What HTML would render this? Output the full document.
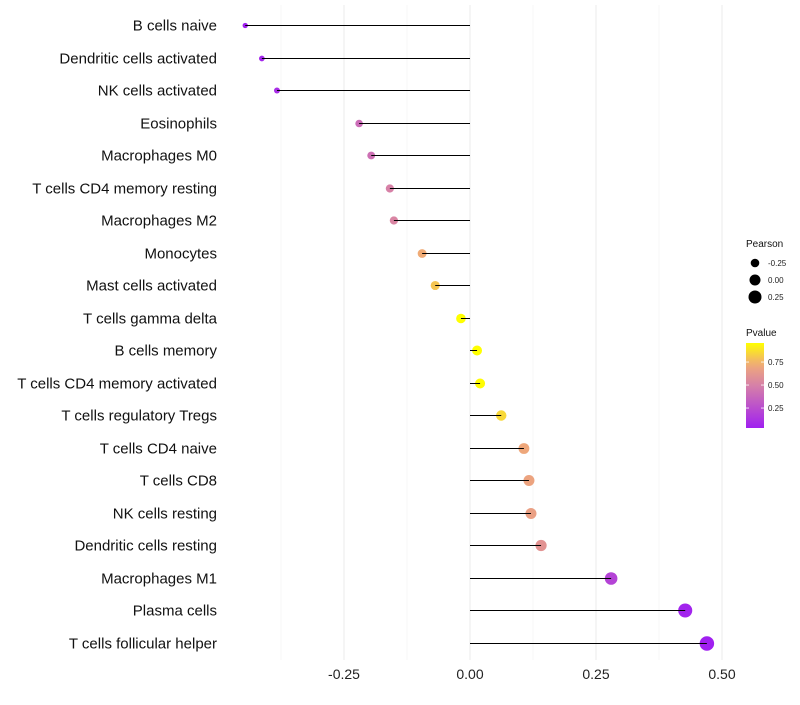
<!DOCTYPE html>
<html><head><meta charset="utf-8"><style>
body{margin:0;background:#fff;font-family:"Liberation Sans",sans-serif}
</style></head><body>
<svg id="c" width="800" height="700" xmlns="http://www.w3.org/2000/svg"></svg>
<script>
const categories=["B cells naive","Dendritic cells activated","NK cells activated","Eosinophils","Macrophages M0","T cells CD4 memory resting","Macrophages M2","Monocytes","Mast cells activated","T cells gamma delta","B cells memory","T cells CD4 memory activated","T cells regulatory  Tregs ","T cells CD4 naive","T cells CD8","NK cells resting","Dendritic cells resting","Macrophages M1","Plasma cells","T cells follicular helper"];
const pearson=[-0.446,-0.413,-0.383,-0.220,-0.196,-0.159,-0.151,-0.095,-0.069,-0.018,0.014,0.020,0.062,0.107,0.117,0.121,0.141,0.280,0.427,0.470];
const pvalue=[0.03,0.06,0.10,0.40,0.42,0.50,0.52,0.73,0.80,0.97,0.97,0.95,0.85,0.71,0.69,0.67,0.60,0.20,0.05,0.03];
const xTicks=[-0.25,0,0.25,0.5];
const xTickLabels=["-0.25","0.00","0.25","0.50"];
const sizeKeys=[-0.25,0,0.25];
const sizeKeyLabels=["-0.25","0.00","0.25"];
const pTicks=[0.25,0.5,0.75];
const pTickLabels=["0.25","0.50","0.75"];
const NS="http://www.w3.org/2000/svg";
const svg=document.getElementById('c');
const x=v=>470+v*504;
const y=i=>Math.round(25+i*32.5)+0.5;
const r=v=>Math.max(1.6,4.9+5.0*v);
const pmin=0.033,pmax=0.957;
function col(p){
 const t=Math.max(0,Math.min(1,(p-pmin)/(pmax-pmin)));
 const stops=[[0,[160,32,240]],[0.5,[214,128,168]],[0.75,[240,170,120]],[1,[255,255,0]]];
 for(let k=1;k<stops.length;k++){if(t<=stops[k][0]){const a=stops[k-1],b=stops[k];const u=(t-a[0])/(b[0]-a[0]);
  return 'rgb('+a[1].map((c,j)=>Math.round(c+(b[1][j]-c)*u)).join(',')+')';}}
 return 'rgb(255,255,0)';
}
function el(tag,attrs,txt){const e=document.createElementNS(NS,tag);for(const k in attrs)e.setAttribute(k,attrs[k]);if(txt!==undefined)e.textContent=txt;svg.appendChild(e);return e;}
[-0.375,-0.125,0.125,0.375].forEach(v=>{const g=el('line',{x1:x(v),x2:x(v),y1:5,y2:660,stroke:'#f2f2f2','stroke-width':0.6});

});
xTicks.forEach((v,i)=>{const g=el('line',{x1:x(v),x2:x(v),y1:5,y2:660,stroke:'#ebebeb','stroke-width':1});


const t=el('text',{x:x(v),y:679,'text-anchor':'middle','font-size':14,fill:'#222'},xTickLabels[i]);

});
categories.forEach((c,i)=>{
 const t=el('text',{x:217,y:y(i)+5,'text-anchor':'end','font-size':15,fill:'#111'},c);
 
 
 const d=el('circle',{cx:x(pearson[i]),cy:y(i),r:r(pearson[i]),fill:col(pvalue[i])});
 
 
 const l=el('line',{x1:x(0),x2:x(pearson[i]),y1:y(i),y2:y(i),stroke:'#000','stroke-width':1});
 
 
});
const lt=el('text',{x:746,y:247,'font-size':10,fill:'#111'},'Pearson');


sizeKeys.forEach((v,i)=>{const yy=263+i*17;
 const d=el('circle',{cx:755,cy:yy,r:[4.3,5.5,6.5][i],fill:'#000'});
 
 
 const t=el('text',{x:768,y:yy+3,'font-size':8,fill:'#222'},sizeKeyLabels[i]);
 
 });
const pt=el('text',{x:746,y:336,'font-size':10,fill:'#111'},'Pvalue');


const defs=el('defs',{});
const lg=document.createElementNS(NS,'linearGradient');lg.setAttribute('id','pg');lg.setAttribute('x1','0');lg.setAttribute('y1','1');lg.setAttribute('x2','0');lg.setAttribute('y2','0');defs.appendChild(lg);
for(let k=0;k<=10;k++){const s=document.createElementNS(NS,'stop');s.setAttribute('offset',k/10);s.setAttribute('stop-color',col(pmin+(pmax-pmin)*k/10));lg.appendChild(s);}
const bar=el('rect',{x:746,y:343,width:18,height:85,fill:'url(#pg)'});


pTicks.forEach((p,i)=>{const yy=428-(p-pmin)*92;
 el('line',{x1:746,x2:749,y1:yy,y2:yy,stroke:'#fff','stroke-width':0.8});
 el('line',{x1:761,x2:764,y1:yy,y2:yy,stroke:'#fff','stroke-width':0.8});
 const t=el('text',{x:768,y:yy+3,'font-size':8,fill:'#222'},pTickLabels[i]);
 
 });
</script>
</body></html>
